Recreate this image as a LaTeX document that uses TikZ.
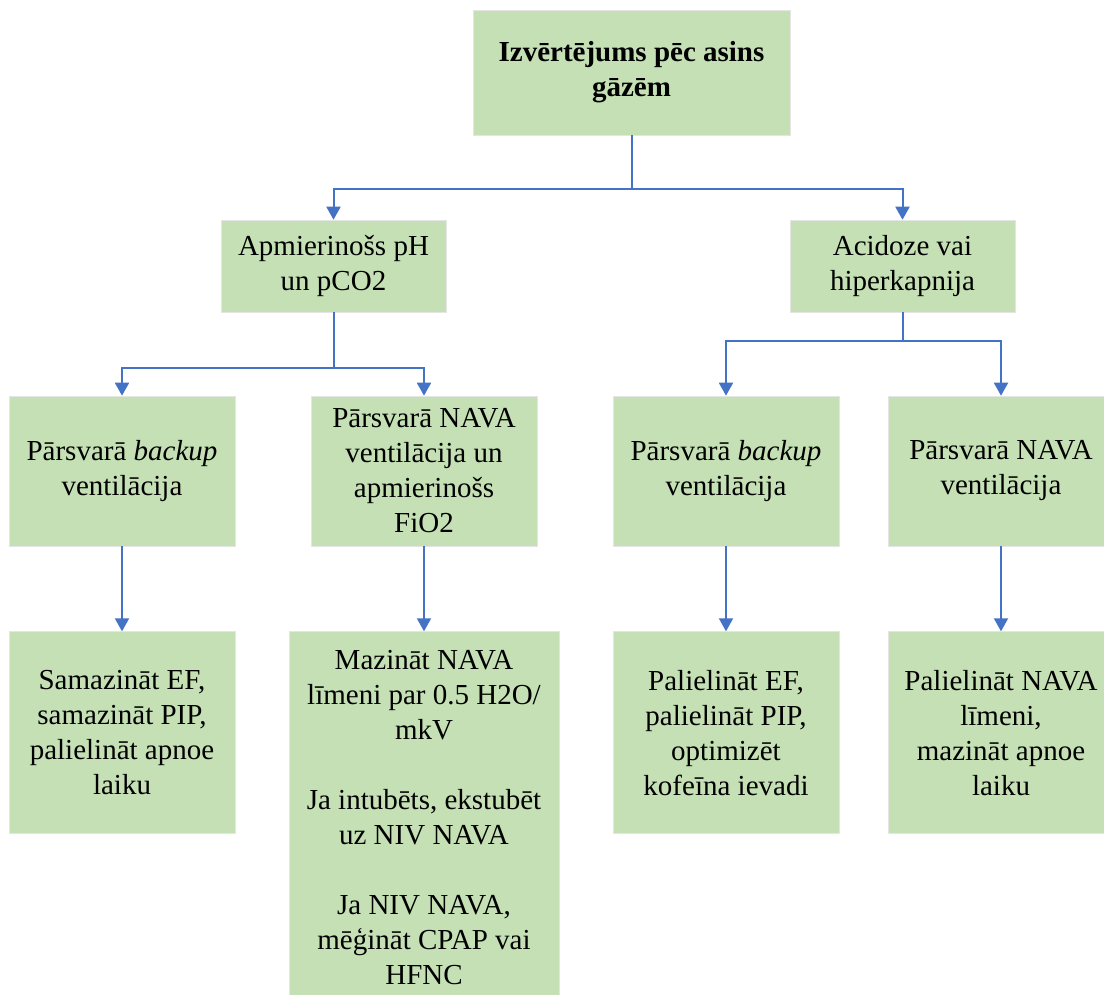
\documentclass[tikz,border=0pt]{standalone}
\usepackage{fontspec}
\setmainfont{Liberation Serif}
\usetikzlibrary{arrows.meta,positioning}
\definecolor{boxgreen}{HTML}{C5E0B4}
\definecolor{linkblue}{HTML}{4472C4}

\begin{document}
\begin{tikzpicture}[
        x=1pt, y=-1pt,
        stepbox/.style={
            rectangle,
            fill=boxgreen,
            draw=gray!20,
            line width=0.6pt,
            inner sep=0pt,
            minimum width=226pt,
            minimum height=150pt,
            align=center,
            font=\fontsize{29}{35}\selectfont
        },
        link/.style={
            -{Triangle[width=14pt,length=13pt]},
            draw=linkblue,
            line width=2pt
        }
    ]

        \useasboundingbox (0,0) rectangle (1104,995);

        \node[stepbox, minimum width=317pt, minimum height=125pt, font=\fontsize{29}{35}\selectfont\bfseries]
            (eval) at (631.5,72.5) {Izvērtējums pēc asins\\gāzēm};

        \node[stepbox, minimum width=225pt, minimum height=92pt] (okgas) at (333.5,266)
            {Apmierinošs pH\\un pCO2};
        \node[stepbox, minimum width=225pt, minimum height=92pt] (acid) at (902.5,266)
            {Acidoze vai\\hiperkapnija};

        \node[stepbox] (backupA) at (122,471) {Pārsvarā \textit{backup}\\ventilācija};
        \node[stepbox] (navaA) at (424,471)
            {Pārsvarā NAVA\\ventilācija un\\apmierinošs\\FiO2};
        \node[stepbox] (backupB) at (726,471) {Pārsvarā \textit{backup}\\ventilācija};
        \node[stepbox] (navaB) at (1001,471) {Pārsvarā NAVA\\ventilācija};

        \node[stepbox, minimum height=202pt, below=85pt of backupA] (lowerA)
            {Samazināt EF,\\samazināt PIP,\\palielināt apnoe\\laiku};
        \node[stepbox, minimum width=270pt, minimum height=372pt, below=85pt of navaA] (weanA)
            {Mazināt NAVA\\līmeni par 0.5 H2O/\\mkV\\[35pt]Ja intubēts, ekstubēt\\uz NIV NAVA\\[35pt]Ja NIV NAVA,\\mēģināt CPAP vai\\HFNC};
        \node[stepbox, minimum height=202pt, below=85pt of backupB] (raiseB)
            {Palielināt EF,\\palielināt PIP,\\optimizēt\\kofeīna ievadi};
        \node[stepbox, minimum height=202pt, below=85pt of navaB] (raiseN)
            {Palielināt NAVA\\līmeni,\\mazināt apnoe\\laiku};

        \draw[link] (eval.south) -- ++(0,54) -| (okgas.north);
        \draw[link] (eval.south) -- ++(0,54) -| (acid.north);

        \draw[link] (okgas.south) -- ++(0,56) -| (backupA.north);
        \draw[link] (okgas.south) -- ++(0,56) -| (navaA.north);
        \draw[link] (acid.south) -- ++(0,29) -| (backupB.north);
        \draw[link] (acid.south) -- ++(0,29) -| (navaB.north);

        \draw[link] (backupA) -- (lowerA);
        \draw[link] (navaA) -- (weanA);
        \draw[link] (backupB) -- (raiseB);
        \draw[link] (navaB) -- (raiseN);

    \end{tikzpicture}
\end{document}
